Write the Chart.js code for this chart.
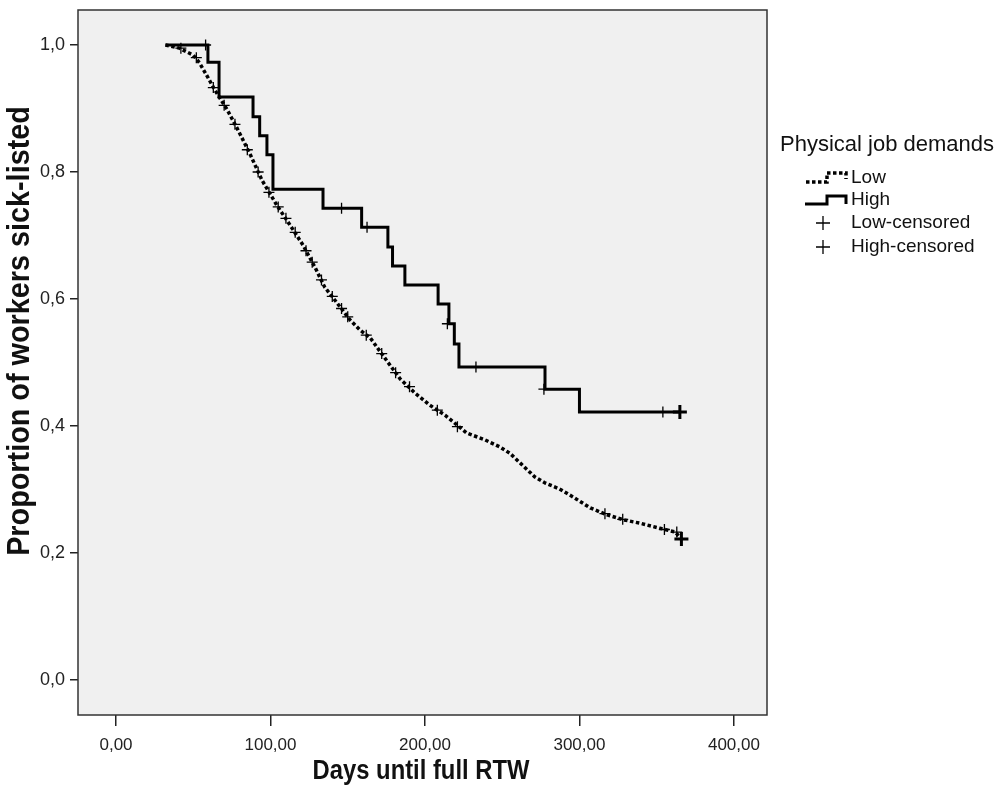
<!DOCTYPE html>
<html>
<head>
<meta charset="utf-8">
<script src="https://cdn.jsdelivr.net/npm/chart.js@4.4.1/dist/chart.umd.min.js"></script>
<style>
  html, body { margin: 0; padding: 0; background: #fff; }
</style>
</head>
<body>
<canvas id="km" width="996" height="785"></canvas>
<script>
// Kaplan-Meier estimates (days, proportion still sick-listed)
const lowTimes = [32, 41, 50, 54, 59, 64, 72, 79, 87, 94.5, 104, 112.5, 121, 129, 135, 143, 151.5, 158, 164.5, 174,
    184, 193.5, 203, 213, 227, 239, 248.5, 255, 261.5, 271, 278, 287, 296, 307, 318, 329, 339, 352, 362, 366];
const lowSurv = [1.0, 0.995, 0.984, 0.972, 0.951, 0.929, 0.898, 0.866, 0.827, 0.787, 0.748, 0.717, 0.685, 0.649, 0.619, 0.594, 0.567, 0.551, 0.539, 0.507,
    0.474, 0.452, 0.433, 0.417, 0.389, 0.378, 0.367, 0.357, 0.342, 0.320, 0.310, 0.301, 0.288, 0.271, 0.260, 0.252, 0.247, 0.239, 0.233, 0.222];

const highTimes = [32, 59.5, 66.7, 88.7, 93, 97.7, 101.6, 134, 159, 176, 179, 187, 208.5, 215.5, 219, 222, 277.7, 300, 365];
const highSurv = [1.0, 0.973, 0.918, 0.887, 0.857, 0.827, 0.773, 0.743, 0.713, 0.682, 0.652, 0.622, 0.592, 0.561, 0.529, 0.493, 0.458, 0.422, 0.422];

// censored cases
const lowCensorTimes = [42, 52, 63, 70, 77, 85, 92, 99, 105, 110, 116, 123, 127, 133, 140, 146, 150, 162, 172, 181,
    190, 208, 221, 316.5, 328, 355, 363, 366];
const lowCensorSurv = [0.995, 0.98, 0.933, 0.905, 0.875, 0.835, 0.80, 0.768, 0.745, 0.727, 0.705, 0.676, 0.658, 0.63, 0.604, 0.585, 0.572, 0.543, 0.514, 0.484,
    0.462, 0.425, 0.399, 0.262, 0.253, 0.237, 0.233, 0.222];
const highCensorTimes = [58, 146, 162.5, 214.5, 233, 277, 354, 365];
const highCensorSurv = [1.0, 0.743, 0.713, 0.561, 0.493, 0.458, 0.422, 0.422];

const xTicks = [0, 100, 200, 300, 400];
const yTicks = [0, 0.2, 0.4, 0.6, 0.8, 1.0];

const xTitle = 'Days until full RTW';
const yTitle = 'Proportion of workers sick-listed';
const legendTitle = 'Physical job demands';
const legendLabels = ['Low', 'High', 'Low-censored', 'High-censored'];

function pairs(xs, ys) {
    return xs.map((x, i) => ({ x: x, y: ys[i] }));
}

const sansFont = "'Liberation Sans', Arial, sans-serif";

// plot background, frame, axis titles and the legend on the right
const frameAndLegend = {
    id: 'frameAndLegend',
    beforeDraw(chart) {
        const a = chart.chartArea;
        const ctx = chart.ctx;
        ctx.save();
        ctx.fillStyle = '#f0f0f0';
        ctx.fillRect(a.left, a.top, a.right - a.left, a.bottom - a.top);
        ctx.restore();
    },
    afterDraw(chart) {
        const a = chart.chartArea;
        const ctx = chart.ctx;
        ctx.save();
        ctx.strokeStyle = '#333';
        ctx.lineWidth = 1.5;
        ctx.strokeRect(a.left, a.top, a.right - a.left, a.bottom - a.top);

        // axis titles (condensed bold, like the SPSS output)
        ctx.fillStyle = '#111';
        ctx.textAlign = 'center';
        ctx.textBaseline = 'middle';
        ctx.font = 'bold 28px ' + sansFont;
        ctx.save();
        ctx.translate(421, 771);
        ctx.scale(0.85, 1);
        ctx.fillText(xTitle, 0, 0);
        ctx.restore();
        ctx.save();
        ctx.translate(20, 331);
        ctx.rotate(-Math.PI / 2);
        ctx.scale(0.9, 1);
        ctx.font = 'bold 32px ' + sansFont;
        ctx.fillText(yTitle, 0, 0);
        ctx.restore();

        // legend
        ctx.textAlign = 'left';
        ctx.font = '22px ' + sansFont;
        ctx.fillText(legendTitle, 780, 145);

        ctx.font = '19px ' + sansFont;
        const rows = [178, 200, 223, 247];
        legendLabels.forEach((t, i) => ctx.fillText(t, 851, rows[i]));

        ctx.strokeStyle = '#000';
        // Low icon (dotted step)
        ctx.lineWidth = 3.5;
        ctx.setLineDash([3.5, 2.5]);
        ctx.beginPath();
        ctx.moveTo(806, 182);
        ctx.lineTo(827, 182);
        ctx.lineTo(827, 173);
        ctx.lineTo(846, 173);
        ctx.lineTo(846, 179);
        ctx.stroke();
        // High icon (solid step)
        ctx.lineWidth = 3;
        ctx.setLineDash([]);
        ctx.beginPath();
        ctx.moveTo(805, 204);
        ctx.lineTo(827, 204);
        ctx.lineTo(827, 196);
        ctx.lineTo(846, 196);
        ctx.lineTo(846, 204);
        ctx.stroke();
        // censor crosses
        ctx.lineWidth = 1.3;
        [223, 247].forEach(y => {
            ctx.beginPath();
            ctx.moveTo(816, y);
            ctx.lineTo(830, y);
            ctx.moveTo(823, y - 7);
            ctx.lineTo(823, y + 7);
            ctx.stroke();
        });
        ctx.restore();
    }
};

const ctxKm = document.getElementById('km').getContext('2d');
const kmChart = new Chart(ctxKm, {
    type: 'line',
    data: {
        datasets: [{
            label: 'Low',
            data: pairs(lowTimes, lowSurv),
            borderColor: '#000',
            borderWidth: 3.5,
            borderDash: [3.5, 2.5],
            pointRadius: 0,
            tension: 0,
            fill: false
        }, {
            label: 'High',
            data: pairs(highTimes, highSurv),
            borderColor: '#000',
            borderWidth: 3,
            stepped: true,
            pointRadius: 0,
            fill: false
        }, {
            label: 'Low-censored',
            data: pairs(lowCensorTimes, lowCensorSurv),
            showLine: false,
            pointStyle: 'cross',
            pointRadius: lowCensorTimes.map((t, i) => i === lowCensorTimes.length - 1 ? 7 : 5.5),
            pointBorderWidth: lowCensorTimes.map((t, i) => i === lowCensorTimes.length - 1 ? 3 : 1.3),
            pointBorderColor: '#000',
            pointBackgroundColor: '#000'
        }, {
            label: 'High-censored',
            data: pairs(highCensorTimes, highCensorSurv),
            showLine: false,
            pointStyle: 'cross',
            pointRadius: highCensorTimes.map((t, i) => i === highCensorTimes.length - 1 ? 7 : 5.5),
            pointBorderWidth: highCensorTimes.map((t, i) => i === highCensorTimes.length - 1 ? 3 : 1.3),
            pointBorderColor: '#000',
            pointBackgroundColor: '#000'
        }]
    },
    options: {
        responsive: false,
        animation: false,
        layout: { padding: { left: 0, top: 10, right: 229, bottom: 0 } },
        plugins: {
            legend: { display: false },
            tooltip: { enabled: false }
        },
        scales: {
            x: {
                type: 'linear',
                min: -24.6,
                max: 421.4,
                afterBuildTicks: scale => { scale.ticks = xTicks.map(v => ({ value: v })); },
                afterFit: scale => {
                    scale.height = 70;
                    scale.paddingLeft = 0;
                    scale.paddingRight = 0;
                },
                ticks: {
                    callback: v => v.toFixed(2).replace('.', ','),
                    font: { family: sansFont, size: 17 },
                    color: '#222',
                    padding: 9,
                    maxRotation: 0
                },
                grid: { drawOnChartArea: false, drawTicks: true, tickLength: 11, color: '#222', lineWidth: 1.5 },
                border: { display: false }
            },
            y: {
                min: -0.0551,
                max: 1.0551,
                afterBuildTicks: scale => { scale.ticks = yTicks.map(v => ({ value: v })); },
                afterFit: scale => {
                    scale.width = 78;
                    scale.paddingTop = 0;
                    scale.paddingBottom = 0;
                },
                ticks: {
                    callback: v => v.toFixed(1).replace('.', ','),
                    font: { family: sansFont, size: 18 },
                    color: '#222',
                    padding: 5
                },
                grid: { drawOnChartArea: false, drawTicks: true, tickLength: 8, color: '#222', lineWidth: 1.5 },
                border: { display: false }
            }
        }
    },
    plugins: [frameAndLegend]
});
</script>
</body>
</html>
